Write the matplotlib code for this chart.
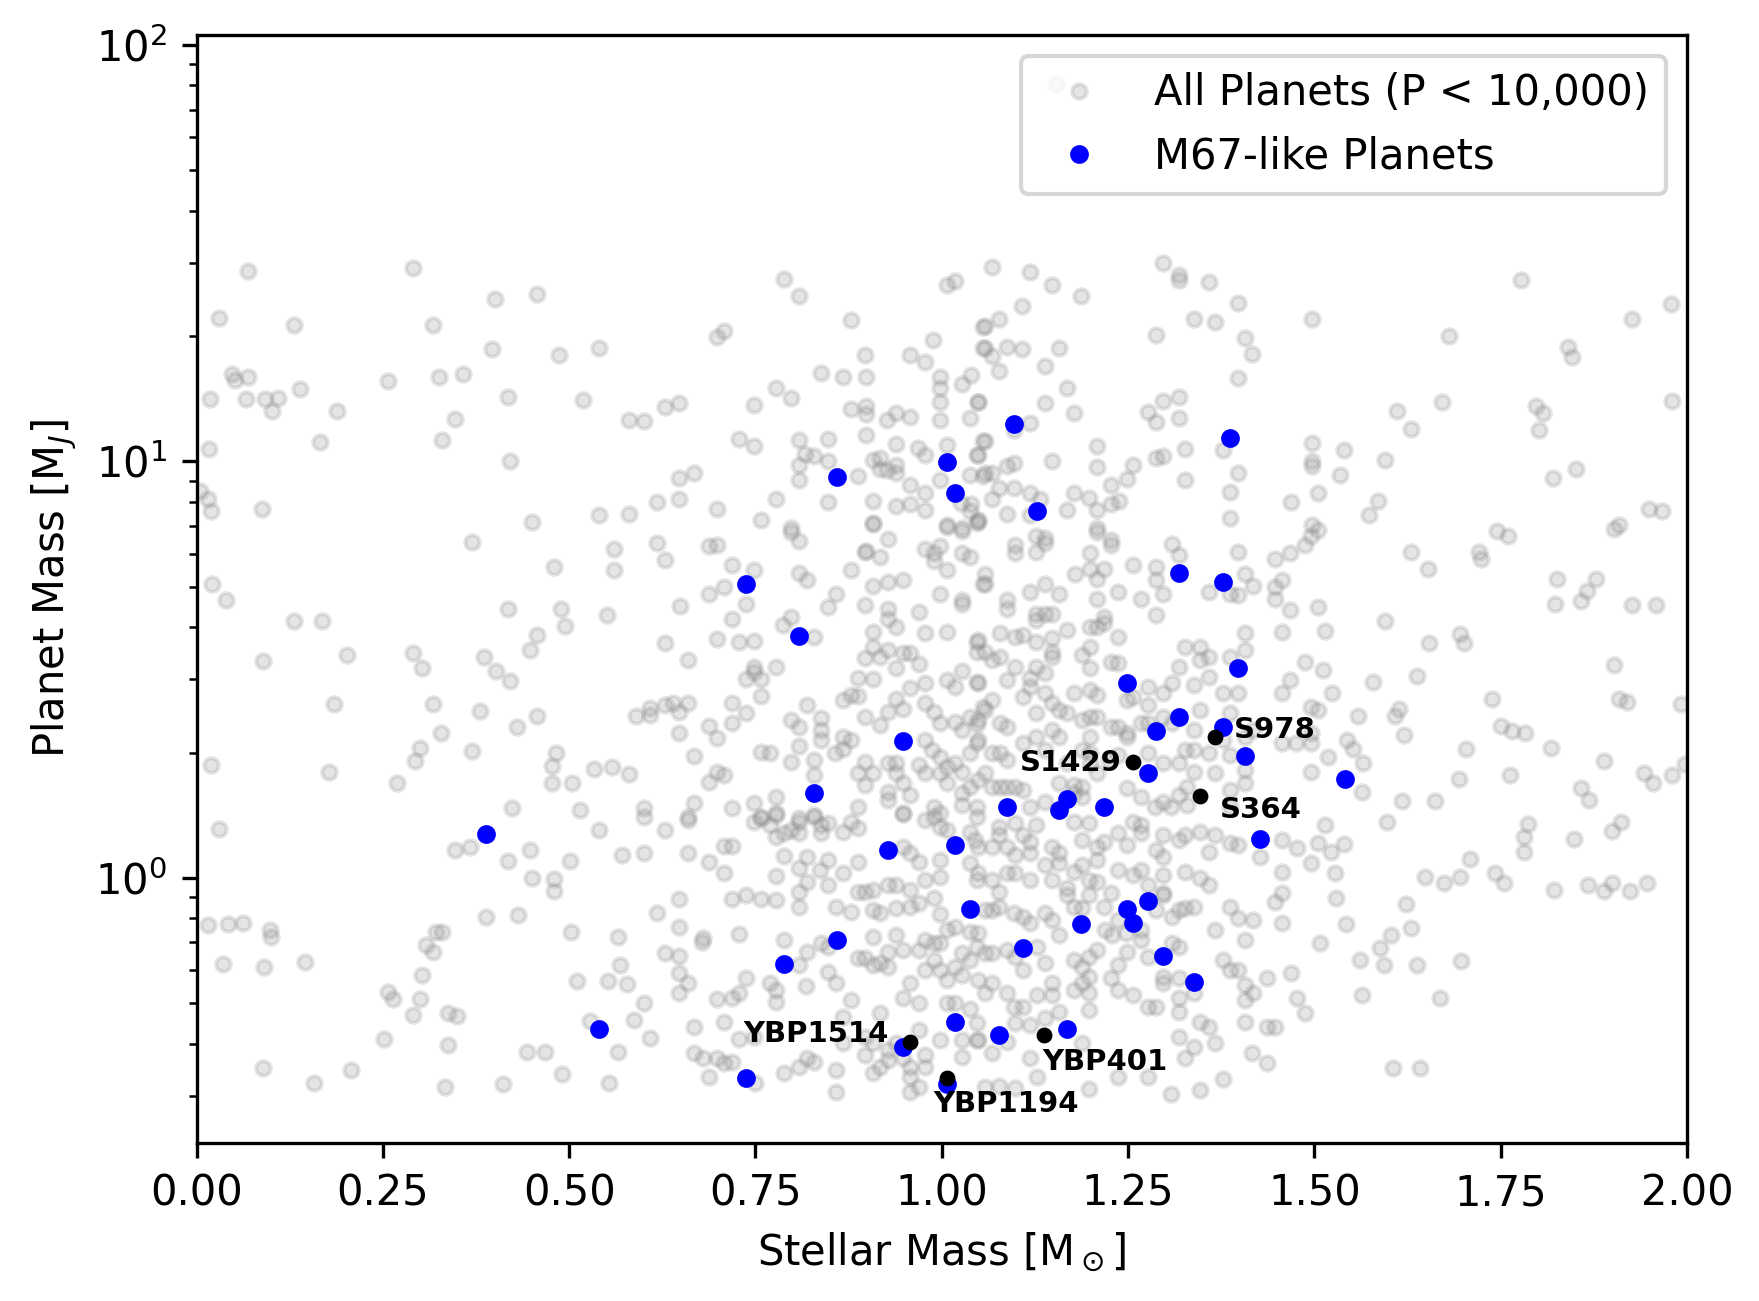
import matplotlib
matplotlib.use("Agg")
import matplotlib.pyplot as plt
import numpy as np

# ---------------- data (stellar mass [Msun], log10 planet mass [MJ]) ----------------
gray_center_upper_left = [
(0.788,1.437),(0.809,1.397),(0.878,1.340),(1.007,1.424),(1.018,1.433),(0.699,1.300),(0.708,1.313),
(0.988,1.292),(0.897,1.255),(0.958,1.255),(0.978,1.239),(1.056,1.324),(1.056,1.272),(0.838,1.212),
(0.868,1.203),(0.898,1.203),(0.998,1.204),(0.998,1.177),(1.027,1.185),(1.039,1.207),(0.778,1.176),
(0.798,1.152),(0.629,1.130),(0.648,1.140),(0.748,1.136),(0.600,1.097),(0.878,1.126),(0.898,1.133),
(0.898,1.113),(0.927,1.099),(0.938,1.117),(0.958,1.106),(0.998,1.144),(0.998,1.100),(1.038,1.104),
(1.048,1.143),(0.728,1.053),(0.748,1.036),(0.809,1.052),(0.848,1.053),(0.817,1.018),(0.829,1.013),
(0.848,1.000),(0.809,0.992),(0.809,0.956),(0.898,1.064),(0.938,1.042),(0.968,1.032),(0.978,1.015),
(1.007,1.040),(0.908,1.004),(0.917,1.008),(0.917,0.981),(0.927,0.980),(0.938,0.991),(0.938,0.973),
(0.888,0.966),(0.958,0.943),(0.978,0.924),(0.998,0.955),(1.038,0.968),(1.047,1.016),(1.056,1.050),
(1.056,0.965),(0.648,0.960),(0.668,0.972),(0.618,0.902),(0.648,0.910),(0.699,0.885),(0.778,0.909),
(0.848,0.902),(0.908,0.906),(0.938,0.892),(0.958,0.898),(0.978,0.883),(1.026,0.900),(1.039,0.897),
(1.038,0.880),(1.049,0.857),(0.758,0.860),(0.798,0.840),(0.908,0.853),(1.007,0.847),(1.027,0.840),
(1.153,1.906),
]
gray_center_upper_right = [
(1.068,1.468),(1.118,1.456),(1.148,1.424),(1.187,1.397),(1.108,1.373),(1.058,1.325),(1.077,1.342),
(1.058,1.273),(1.068,1.253),(1.088,1.276),(1.108,1.270),(1.158,1.272),(1.138,1.229),(1.077,1.217),
(1.297,1.476),(1.318,1.448),(1.318,1.436),(1.358,1.430),(1.397,1.380),(1.338,1.341),(1.367,1.334),
(1.288,1.303),(1.407,1.297),(1.416,1.258),(1.397,1.201),(1.497,1.341),(1.049,1.143),(1.138,1.140),
(1.168,1.177),(1.178,1.117),(1.277,1.120),(1.288,1.096),(1.297,1.146),(1.318,1.155),(1.318,1.104),
(1.118,1.093),(1.097,1.076),(1.058,1.049),(1.049,1.016),(1.058,0.972),(1.068,0.972),(1.088,0.989),
(1.097,0.996),(1.148,1.000),(1.208,1.036),(1.208,0.986),(1.257,0.992),(1.248,0.957),(1.227,0.944),
(1.288,1.008),(1.297,1.012),(1.327,1.030),(1.327,0.956),(1.378,1.028),(1.397,0.972),(1.387,0.926),
(1.387,0.864),(1.468,0.902),(1.497,1.044),(1.497,1.000),(1.497,0.988),(1.505,0.924),(1.497,0.848),
(1.077,0.936),(1.097,0.936),(1.068,0.911),(1.118,0.925),(1.132,0.909),(1.178,0.924),(1.198,0.912),
(1.208,0.884),(1.168,0.884),(1.227,0.898),(1.238,0.906),(1.088,0.874),(1.049,0.860),(1.118,0.871),
(1.208,0.840),
]
gray_center_middle_left = [
(0.618,0.805),(0.629,0.763),(0.688,0.797),(0.699,0.799),(0.719,0.751),(0.748,0.739),(0.798,0.830),
(0.808,0.810),(0.808,0.733),(0.819,0.715),(0.858,0.682),(0.848,0.650),(0.878,0.739),(0.897,0.782),
(0.899,0.786),(0.917,0.770),(0.908,0.701),(0.928,0.711),(0.948,0.715),(0.928,0.815),(0.908,0.850),
(0.978,0.789),(0.989,0.780),(0.998,0.796),(0.989,0.760),(1.007,0.739),(1.027,0.780),(1.038,0.771),
(1.007,0.843),(1.027,0.832),(1.047,0.852),(1.056,0.707),(0.998,0.682),(1.027,0.667),(1.027,0.659),
(0.969,0.639),(0.897,0.655),(0.928,0.645),(0.928,0.621),(0.938,0.603),(0.908,0.590),(0.978,0.589),
(1.007,0.591),(1.047,0.567),(1.047,0.543),(0.649,0.653),(0.688,0.682),(0.708,0.699),(0.738,0.659),
(0.719,0.621),(0.787,0.607),(0.798,0.626),(0.828,0.578),(0.629,0.563),(0.699,0.573),(0.728,0.566),
(0.748,0.570),(0.659,0.523),(0.748,0.507),(0.748,0.495),(0.738,0.477),(0.758,0.477),(0.778,0.507),
(0.758,0.438),(0.609,0.407),(0.609,0.391),(0.629,0.415),(0.639,0.421),(0.648,0.399),(0.659,0.421),
(0.719,0.419),(0.738,0.397),(0.819,0.416),(0.838,0.385),(0.798,0.379),(0.808,0.362),(0.838,0.355),
(0.838,0.331),(0.868,0.427),(0.878,0.439),(0.888,0.437),(0.897,0.387),(0.917,0.368),(0.928,0.399),
(0.938,0.429),(0.948,0.406),(0.958,0.455),(0.978,0.467),(0.978,0.421),(0.989,0.399),(0.998,0.373),
(1.007,0.475),(1.018,0.459),(1.027,0.498),(1.047,0.471),(1.056,0.411),(1.018,0.375),(1.027,0.355),
(1.038,0.387),(1.047,0.370),(0.897,0.527),(0.908,0.555),(0.917,0.531),(0.928,0.547),(0.938,0.503),
(0.948,0.541),(0.958,0.541),(0.969,0.514),(0.908,0.477),(0.888,0.480),(0.868,0.339),(0.878,0.331),
(0.868,0.309),(0.857,0.301),(0.897,0.279),(0.908,0.251),(0.888,0.251),(0.897,0.223),(0.928,0.275),
(0.938,0.275),(0.948,0.227),(0.958,0.199),(0.928,0.207),(0.928,0.187),(0.888,0.170),(0.938,0.251),
(0.978,0.331),(0.987,0.307),(0.998,0.291),(1.007,0.267),(1.018,0.275),(1.027,0.255),(1.038,0.299),
(1.047,0.323),(0.969,0.271),(0.978,0.251),(0.998,0.251),(1.007,0.227),(1.027,0.203),(1.038,0.219),
(1.047,0.171),(1.027,0.175),(0.989,0.171),(0.998,0.155),(0.948,0.155),(0.648,0.347),(0.688,0.365),
(0.699,0.335),(0.719,0.371),(0.668,0.293),(0.688,0.230),(0.699,0.255),(0.708,0.247),(0.758,0.302),
(0.769,0.299),(0.798,0.279),(0.808,0.317),(0.828,0.283),(0.828,0.247),(0.778,0.195),(0.748,0.179),
(0.719,0.167),(0.668,0.179),(0.600,0.167),(0.659,0.147),(0.758,0.147),(0.778,0.155),(0.808,0.143),
(0.828,0.151),
]
gray_center_middle_right = [
(1.098,0.800),(1.098,0.780),(1.127,0.820),(1.139,0.816),(1.139,0.804),(1.127,0.783),(1.208,0.831),
(1.227,0.811),(1.227,0.800),(1.199,0.780),(1.179,0.731),(1.199,0.743),(1.208,0.719),(1.218,0.743),
(1.208,0.671),(1.237,0.687),(1.257,0.751),(1.288,0.747),(1.288,0.715),(1.297,0.683),(1.268,0.671),
(1.288,0.631),(1.309,0.802),(1.318,0.776),(1.358,0.687),(1.387,0.683),(1.397,0.679),(1.397,0.783),
(1.407,0.729),(1.418,0.702),(1.447,0.767),(1.467,0.780),(1.488,0.800),(1.496,0.820),(1.505,0.836),
(1.447,0.699),(1.447,0.671),(1.456,0.715),(1.467,0.643),(1.505,0.651),(1.058,0.731),(1.058,0.707),
(1.088,0.667),(1.088,0.647),(1.118,0.687),(1.138,0.707),(1.158,0.682),(1.127,0.635),(1.138,0.635),
(1.148,0.635),(1.127,0.619),(1.168,0.595),(1.199,0.603),(1.208,0.603),(1.218,0.627),(1.218,0.611),
(1.237,0.579),(1.049,0.571),(1.078,0.587),(1.098,0.579),(1.109,0.583),(1.127,0.567),(1.148,0.575),
(1.058,0.543),(1.067,0.523),(1.078,0.531),(1.098,0.507),(1.088,0.475),(1.118,0.479),(1.127,0.507),
(1.138,0.491),(1.148,0.543),(1.148,0.531),(1.188,0.535),(1.199,0.555),(1.199,0.503),(1.227,0.519),
(1.237,0.515),(1.248,0.427),(1.257,0.435),(1.277,0.415),(1.277,0.459),(1.297,0.443),(1.309,0.467),
(1.318,0.507),(1.326,0.555),(1.347,0.555),(1.347,0.523),(1.358,0.531),(1.358,0.483),(1.387,0.531),
(1.407,0.547),(1.407,0.587),(1.456,0.591),(1.488,0.519),(1.467,0.475),(1.456,0.443),(1.505,0.403),
(1.338,0.463),(1.378,0.443),(1.397,0.443),(1.049,0.467),(1.049,0.379),(1.068,0.427),(1.058,0.403),
(1.078,0.371),(1.088,0.363),(1.109,0.435),(1.118,0.459),(1.127,0.395),(1.138,0.443),(1.148,0.419),
(1.158,0.403),(1.168,0.395),(1.177,0.443),(1.188,0.379),(1.199,0.451),(1.208,0.439),(1.199,0.387),
(1.208,0.387),(1.227,0.363),(1.237,0.363),(1.248,0.347),(1.267,0.371),(1.277,0.371),(1.297,0.387),
(1.309,0.371),(1.338,0.355),(1.347,0.403),(1.387,0.397),(1.378,0.331),(1.387,0.295),(1.407,0.339),
(1.418,0.355),(1.456,0.323),(1.476,0.323),(1.496,0.323),(1.496,0.411),(1.049,0.331),(1.068,0.299),
(1.078,0.299),(1.088,0.283),(1.109,0.323),(1.127,0.339),(1.138,0.307),(1.148,0.355),(1.158,0.339),
(1.168,0.275),(1.188,0.307),(1.199,0.339),(1.199,0.299),(1.199,0.275),(1.208,0.251),(1.224,0.283),
(1.237,0.295),(1.248,0.339),(1.277,0.299),(1.297,0.275),(1.318,0.275),(1.326,0.307),(1.338,0.307),
(1.338,0.255),(1.358,0.299),(1.329,0.219),(1.318,0.199),(1.297,0.183),(1.308,0.171),(1.329,0.175),
(1.049,0.235),(1.058,0.251),(1.068,0.219),(1.078,0.219),(1.088,0.219),(1.098,0.219),(1.109,0.211),
(1.118,0.171),(1.138,0.183),(1.158,0.227),(1.178,0.223),(1.178,0.203),(1.188,0.219),(1.188,0.195),
(1.248,0.215),(1.267,0.195),(1.286,0.171),(1.367,0.251),(1.387,0.211),(1.387,0.171),(1.407,0.227),
(1.407,0.259),(1.496,0.255),(1.496,0.347),
]
gray_center_lower_left = [
(0.600,0.147),(0.629,0.115),(0.659,0.139),(0.659,0.059),(0.688,0.038),(0.708,0.011),(0.708,0.077),
(0.718,0.077),(0.748,0.135),(0.758,0.143),(0.769,0.127),(0.778,0.151),(0.788,0.107),(0.778,0.099),
(0.798,0.115),(0.808,0.107),(0.808,0.135),(0.828,0.147),(0.838,0.127),(0.838,0.107),(0.848,0.131),
(0.868,0.111),(0.888,0.119),(0.878,0.135),(0.948,0.154),(0.978,0.139),(0.989,0.147),(0.998,0.123),
(1.007,0.115),(1.038,0.111),(1.047,0.147),(0.600,0.059),(0.788,0.053),(0.819,0.051),(0.808,0.023),
(0.848,0.043),(0.868,0.011),(0.888,0.039),(0.837,0.019),(0.819,-0.009),(0.848,-0.017),(0.778,0.005),
(0.808,-0.033),(0.808,-0.070),(0.858,-0.069),(0.878,-0.081),(0.908,-0.077),(0.917,-0.085),
(0.938,-0.073),(0.958,-0.069),(0.969,-0.061),(0.989,-0.049),(0.998,-0.086),(1.018,-0.117),
(1.038,-0.129),(1.047,-0.005),(1.038,0.035),(0.998,0.043),(0.969,0.039),(0.958,0.059),(0.948,0.074),
(0.938,-0.017),(0.958,-0.029),(0.978,-0.005),(0.998,0.003),(0.908,-0.029),(0.888,-0.033),
(0.897,-0.033),(0.928,-0.017),(0.618,-0.085),(0.648,-0.051),(0.648,-0.118),(0.679,-0.145),
(0.678,-0.153),(0.728,-0.134),(0.718,-0.051),(0.738,-0.041),(0.758,-0.051),(0.778,-0.053),
(0.629,-0.181),(0.648,-0.187),(0.648,-0.229),(0.659,-0.253),(0.648,-0.277),(0.699,-0.290),
(0.718,-0.289),(0.728,-0.277),(0.738,-0.241),(0.769,-0.253),(0.778,-0.269),(0.778,-0.299),
(0.788,-0.149),(0.808,-0.209),(0.819,-0.177),(0.818,-0.259),(0.838,-0.157),(0.848,-0.165),
(0.848,-0.225),(0.858,-0.253),(0.888,-0.193),(0.897,-0.193),(0.908,-0.209),(0.917,-0.205),
(0.928,-0.213),(0.928,-0.177),(0.908,-0.141),(0.938,-0.137),(0.948,-0.173),(0.969,-0.173),
(0.978,-0.149),(0.989,-0.157),(0.998,-0.157),(1.007,-0.125),(1.027,-0.181),(1.038,-0.197),
(1.047,-0.165),(0.978,-0.221),(0.989,-0.197),(0.998,-0.221),(1.007,-0.245),(1.018,-0.213),
(1.027,-0.233),(0.957,-0.253),(0.969,-0.301),(0.948,-0.289),(0.878,-0.293),(0.868,-0.334),
(0.917,-0.325),(0.600,-0.301),(0.668,-0.357),(0.708,-0.345),(0.728,-0.387),(0.748,-0.381),
(0.868,-0.397),(0.897,-0.381),(0.908,-0.397),(0.928,-0.413),(0.938,-0.397),(0.969,-0.365),
(0.978,-0.425),(0.998,-0.389),(1.007,-0.301),(1.018,-0.301),(1.038,-0.315),(1.047,-0.349),
(1.027,-0.389),(1.027,-0.429),(1.047,-0.389),(0.609,-0.385),(0.668,-0.421),(0.679,-0.433),
(0.688,-0.477),(0.699,-0.433),(0.708,-0.445),(0.718,-0.441),(0.788,-0.469),(0.808,-0.453),
(0.819,-0.433),(0.828,-0.441),(0.858,-0.461),(0.858,-0.513),(0.897,-0.425),(0.908,-0.469),
(0.917,-0.453),(0.928,-0.437),(0.948,-0.433),(0.958,-0.453),(0.958,-0.477),(0.958,-0.513),
(0.969,-0.501),(0.978,-0.453),(0.750,-0.493),
]
gray_center_lower_right = [
(1.077,0.123),(1.077,0.103),(1.098,0.131),(1.109,0.103),(1.118,0.087),(1.127,0.127),(1.045,0.091),
(1.049,0.075),(1.068,0.075),(1.088,0.075),(1.098,0.055),(1.118,0.059),(1.148,0.075),(1.158,0.059),
(1.158,0.035),(1.178,0.135),(1.188,0.091),(1.198,0.131),(1.208,0.075),(1.208,0.043),(1.218,0.087),
(1.237,0.107),(1.248,0.079),(1.257,0.135),(1.267,0.127),(1.267,0.107),(1.288,0.067),(1.297,0.103),
(1.297,0.051),(1.318,0.091),(1.327,0.103),(1.347,0.111),(1.358,0.063),(1.367,0.103),(1.387,0.083),
(1.397,0.079),(1.427,0.051),(1.456,0.091),(1.477,0.071),(1.496,0.035),(1.505,0.083),(1.049,0.011),
(1.068,-0.005),(1.077,-0.033),(1.088,0.011),(1.098,0.011),(1.118,-0.005),(1.138,0.031),
(1.148,-0.005),(1.168,-0.025),(1.178,0.015),(1.188,0.031),(1.198,-0.005),(1.208,-0.009),
(1.227,-0.037),(1.237,0.019),(1.257,0.007),(1.267,0.019),(1.277,-0.017),(1.297,0.007),
(1.297,-0.041),(1.326,0.015),(1.347,-0.001),(1.358,-0.017),(1.456,0.015),(1.447,-0.057),
(1.456,-0.037),(1.058,-0.077),(1.068,-0.077),(1.077,-0.069),(1.097,-0.085),(1.109,-0.093),
(1.118,-0.109),(1.138,-0.085),(1.148,-0.101),(1.158,-0.137),(1.168,-0.041),(1.178,-0.069),
(1.188,-0.073),(1.198,-0.041),(1.218,-0.069),(1.219,-0.125),(1.228,-0.137),(1.237,-0.101),
(1.247,-0.133),(1.267,-0.125),(1.267,-0.149),(1.288,-0.077),(1.297,-0.037),(1.309,-0.093),
(1.318,-0.077),(1.327,-0.073),(1.338,-0.069),(1.367,-0.125),(1.387,-0.069),(1.397,-0.097),
(1.407,-0.149),(1.418,-0.101),(1.456,-0.109),(1.049,-0.133),(1.058,-0.181),(1.068,-0.181),
(1.088,-0.173),(1.098,-0.189),(1.109,-0.221),(1.128,-0.165),(1.138,-0.205),(1.178,-0.197),
(1.188,-0.213),(1.198,-0.189),(1.208,-0.173),(1.198,-0.237),(1.227,-0.241),(1.237,-0.209),
(1.237,-0.269),(1.248,-0.177),(1.257,-0.281),(1.277,-0.309),(1.288,-0.309),(1.277,-0.189),
(1.297,-0.237),(1.297,-0.253),(1.309,-0.157),(1.318,-0.165),(1.318,-0.241),(1.318,-0.289),
(1.318,-0.321),(1.338,-0.277),(1.378,-0.197),(1.387,-0.221),(1.397,-0.221),(1.407,-0.257),
(1.418,-0.277),(1.407,-0.293),(1.436,-0.241),(1.468,-0.229),(1.477,-0.289),(1.488,-0.325),
(1.049,-0.245),(1.058,-0.277),(1.068,-0.253),(1.088,-0.277),(1.097,-0.309),(1.109,-0.309),
(1.128,-0.281),(1.148,-0.253),(1.148,-0.281),(1.158,-0.321),(1.178,-0.269),(1.188,-0.253),
(1.198,-0.277),(1.198,-0.317),(1.098,-0.349),(1.118,-0.353),(1.138,-0.337),(1.508,-0.157),
(1.347,-0.345),(1.358,-0.357),(1.318,-0.381),(1.338,-0.406),(1.367,-0.397),(1.407,-0.345),
(1.436,-0.357),(1.447,-0.358),(1.326,-0.433),(1.416,-0.421),(1.436,-0.445),(1.049,-0.389),
(1.068,-0.421),(1.088,-0.393),(1.118,-0.433),(1.128,-0.477),(1.188,-0.397),(1.237,-0.477),
(1.277,-0.477),(1.378,-0.483),(1.347,-0.509),(1.308,-0.519),(1.198,-0.507),(1.058,-0.501),
(1.077,-0.499),(1.098,-0.505),
]
gray_left = [
(0.069,1.457),(0.030,1.344),(0.131,1.328),(0.290,1.465),(0.318,1.328),(0.400,1.390),(0.457,1.401),
(0.540,1.272),(0.048,1.210),(0.051,1.196),(0.066,1.151),(0.069,1.204),(0.018,1.151),(0.017,1.030),
(0.092,1.151),(0.109,1.153),(0.101,1.121),(0.139,1.175),(0.166,1.046),(0.189,1.121),(0.257,1.194),
(0.326,1.204),(0.329,1.051),(0.347,1.102),(0.358,1.210),(0.397,1.269),(0.418,1.156),(0.421,1.000),
(0.486,1.255),(0.519,1.148),(0.581,1.099),(0.088,0.887),(0.021,0.707),(0.039,0.667),(0.089,0.522),
(0.131,0.618),(0.169,0.616),(0.202,0.535),(0.290,0.540),(0.302,0.505),(0.370,0.806),(0.418,0.645),
(0.450,0.855),(0.457,0.583),(0.447,0.548),(0.480,0.747),(0.489,0.645),(0.495,0.605),(0.540,0.871),
(0.560,0.790),(0.560,0.739),(0.551,0.632),(0.581,0.874),(0.020,0.272),(0.030,0.118),(0.178,0.255),
(0.184,0.417),(0.269,0.228),(0.293,0.282),(0.300,0.312),(0.317,0.417),(0.328,0.349),(0.347,0.067),
(0.370,0.304),(0.386,0.530),(0.380,0.401),(0.402,0.497),(0.421,0.473),(0.430,0.363),(0.457,0.390),
(0.477,0.269),(0.482,0.301),(0.477,0.228),(0.504,0.228),(0.515,0.164),(0.534,0.261),(0.558,0.266),
(0.581,0.250),(0.590,0.390),(0.501,0.040),(0.571,0.056),(0.540,0.116),(0.423,0.167),(0.447,0.067),
(0.418,0.040),(0.367,0.075),(0.015,-0.113),(0.042,-0.110),(0.062,-0.108),(0.098,-0.126),
(0.100,-0.142),(0.035,-0.207),(0.089,-0.457),(0.091,-0.215),(0.146,-0.202),(0.158,-0.492),
(0.207,-0.460),(0.251,-0.387),(0.257,-0.274),(0.263,-0.290),(0.291,-0.328),(0.300,-0.290),
(0.308,-0.161),(0.322,-0.129),(0.329,-0.129),(0.317,-0.177),(0.303,-0.234),(0.338,-0.325),
(0.350,-0.331),(0.337,-0.401),(0.334,-0.503),(0.411,-0.495),(0.388,-0.094),(0.432,-0.089),
(0.450,0.000),(0.480,-0.003),(0.480,-0.032),(0.503,-0.129),(0.510,-0.247),(0.528,-0.344),
(0.552,-0.247),(0.565,-0.142),(0.568,-0.210),(0.578,-0.255),(0.554,-0.492),(0.566,-0.417),
(0.587,-0.341),(0.491,-0.470),(0.444,-0.417),(0.468,-0.419),
(0.005,0.930),(0.015,0.910),(0.020,0.880),
]
gray_right = [
(1.777,1.435),(1.840,1.274),(1.846,1.250),(1.798,1.134),(1.807,1.116),(1.801,1.075),(1.820,0.960),
(1.760,0.820),(1.826,0.718),(1.823,0.659),(1.680,1.301),(1.671,1.142),(1.611,1.121),(1.630,1.078),
(1.595,1.003),(1.540,1.027),(1.535,0.968),(1.573,0.871),(1.585,0.906),(1.629,0.782),(1.653,0.742),
(1.695,0.586),(1.701,0.565),(1.721,0.782),(1.724,0.766),(1.745,0.833),(1.654,0.565),(1.595,0.618),
(1.638,0.484),(1.579,0.470),(1.614,0.406),(1.608,0.390),(1.620,0.344),(1.559,0.390),(1.544,0.331),
(1.552,0.309),(1.565,0.277),(1.564,0.207),(1.597,0.134),(1.617,0.185),(1.662,0.185),(1.694,0.237),
(1.703,0.309),(1.739,0.430),(1.751,0.366),(1.765,0.352),(1.783,0.349),(1.817,0.312),(1.763,0.247),
(1.787,0.129),(1.781,0.099),(1.742,0.013),(1.754,-0.013),(1.709,0.046),(1.695,0.003),(1.674,-0.013),
(1.648,0.003),(1.623,-0.062),(1.629,-0.121),(1.588,-0.169),(1.594,-0.210),(1.638,-0.210),
(1.561,-0.196),(1.564,-0.282),(1.543,-0.110),(1.529,-0.048),(1.528,0.013),(1.522,0.062),(1.540,0.081),
(1.514,0.126),(1.518,0.290),(1.512,0.500),(1.523,0.444),(1.514,0.594),(1.697,-0.199),(1.642,-0.457),
(1.606,-0.457),(1.603,-0.137),(1.668,-0.288),(1.822,-0.030),(1.849,0.094),(1.869,0.188),(1.888,0.280),
(1.909,0.430),(1.920,0.422),(1.902,0.511),(1.926,0.656),(1.959,0.656),(1.866,0.688),(1.858,0.664),
(1.878,0.718),(1.909,0.847),(1.902,0.839),(1.949,0.887),(1.967,0.882),(1.980,1.145),(1.926,1.341),
(1.979,1.379),(1.851,0.981),(1.947,-0.013),(1.923,-0.032),(1.900,-0.011),(1.900,0.113),(1.912,0.134),
(1.867,-0.016),(1.888,-0.032),(1.942,0.253),(1.955,0.228),(1.980,0.247),(1.997,0.274),(1.992,0.417),
(1.858,0.215),(1.781,0.062),
]

m67_like = [
(0.388,0.105),(0.540,-0.363),(0.738,-0.481),(0.738,0.707),(0.860,0.962),(0.809,0.580),(0.828,0.203),
(0.788,-0.206),(0.859,-0.149),(0.928,0.067),(0.948,-0.406),(0.948,0.328),(1.007,0.998),(1.018,0.924),
(1.097,1.089),(1.128,0.881),(1.018,0.079),(1.038,-0.074),(1.018,-0.346),(1.077,-0.378),(1.007,-0.494),
(1.088,0.171),(1.158,0.163),(1.168,0.189),(1.218,0.171),(1.109,-0.169),(1.187,-0.111),(1.168,-0.363),
(1.248,0.469),(1.248,-0.074),(1.257,-0.107),(1.277,-0.055),(1.297,-0.187),(1.338,-0.250),(1.277,0.251),
(1.288,0.354),(1.318,0.386),(1.378,0.362),(1.407,0.292),(1.397,0.503),(1.318,0.7315),(1.378,0.710),
(1.387,1.056),(1.427,0.093),(1.541,0.237),
]

m67_names = ["S978", "S1429", "S364", "YBP1514", "YBP1194", "YBP401"]
m67_star_mass = [1.3667, 1.2571, 1.347, 0.9575, 1.0071, 1.1377]
m67_log_planet_mass = [0.338, 0.2777, 0.197, -0.395, -0.481, -0.378]
# label placement (offset in points, horizontal alignment)
label_offsets = [(4.6, -0.2), (-2.8, -2.0), (4.7, -5.3), (-5.2, 0.0), (-3.3, -8.0), (-0.6, -8.2)]
label_ha = ["left", "right", "left", "right", "left", "left"]

gray_all = (gray_center_upper_left + gray_center_upper_right + gray_center_middle_left +
            gray_center_middle_right + gray_center_lower_left + gray_center_lower_right +
            gray_left + gray_right)
gx = np.array([p[0] for p in gray_all])
gy = 10 ** np.array([p[1] for p in gray_all])
bx = np.array([p[0] for p in m67_like])
by = 10 ** np.array([p[1] for p in m67_like])
kx = np.array(m67_star_mass)
ky = 10 ** np.array(m67_log_planet_mass)

# ---------------- figure ----------------
fig = plt.figure(figsize=(1760 / 300, 1301 / 300), dpi=300)
ax = fig.add_axes([0.11165, 0.12145, 0.84687, 0.85165])

ax.plot(gx, gy, 'o', color='gray', alpha=0.2, ms=3.5, label='All Planets (P < 10,000)')
ax.plot(bx, by, 'o', color='blue', ms=3.5, label='M67-like Planets')
ax.plot(kx, ky, 'o', color='black', ms=2.8)

for name, x, y, off, ha in zip(m67_names, kx, ky, label_offsets, label_ha):
    ax.annotate(name, (x, y), xytext=off, textcoords='offset points',
                ha=ha, va='baseline', fontsize=7, fontweight='bold', color='black')

ax.set_yscale('log')
ax.set_xlim(0, 2)
ax.set_ylim(0.231, 105.7)
ax.set_xlabel(r'Stellar Mass [M$_\odot$]')
ax.set_ylabel(r'Planet Mass [M$_J$]')
ax.legend(loc='upper right')

fig.savefig('out.png', dpi=300)
